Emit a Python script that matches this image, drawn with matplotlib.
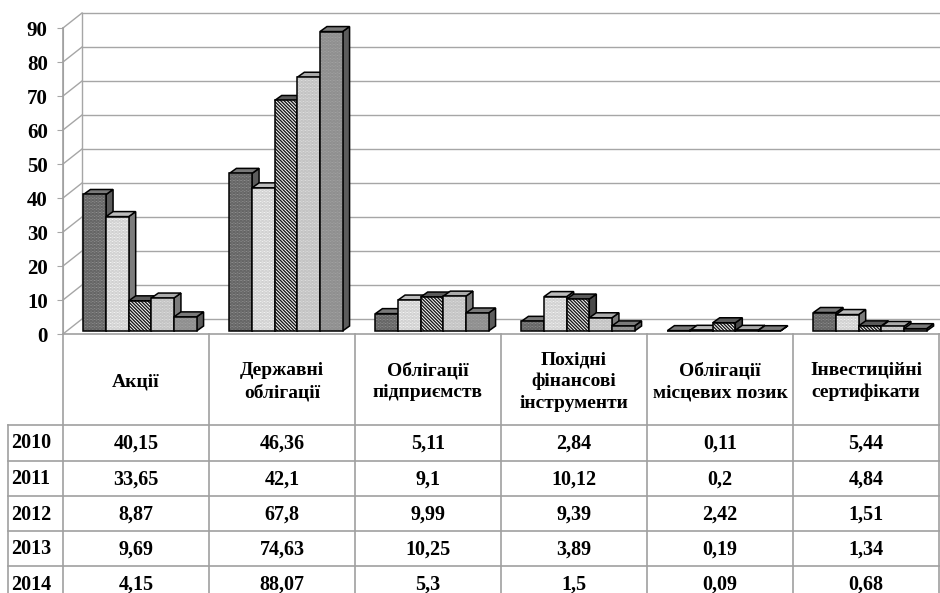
import matplotlib
matplotlib.use("Agg")
import matplotlib.pyplot as plt
from matplotlib.patches import Polygon
from matplotlib.lines import Line2D

categories = ["Акції", "Державні\nоблігації", "Облігації\nпідприємств",
              "Похідні\nфінансові\nінструменти", "Облігації\nмісцевих позик",
              "Інвестиційні\nсертифікати"]
years = ["2010", "2011", "2012", "2013", "2014"]
v2010 = [40.15, 46.36, 5.11, 2.84, 0.11, 5.44]
v2011 = [33.65, 42.1, 9.1, 10.12, 0.2, 4.84]
v2012 = [8.87, 67.8, 9.99, 9.39, 2.42, 1.51]
v2013 = [9.69, 74.63, 10.25, 3.89, 0.19, 1.34]
v2014 = [4.15, 88.07, 5.3, 1.5, 0.09, 0.68]
series = [v2010, v2011, v2012, v2013, v2014]
yticks = [0, 10, 20, 30, 40, 50, 60, 70, 80, 90]

# styles per series: (face, hatch, hatch color, side color, top color)
styles = [
    ("#9c9c9c", "." * 12, "#5a5a5a", "#5c5c5c", "#7a7a7a"),
    ("#ffffff", "." * 12, "#c8c8c8", "#7c7c7c", "#bdbdbd"),
    ("#ffffff", "\\" * 10, "#1a1a1a", "#4a4a4a", "#5a5a5a"),
    ("#e6e6e6", "." * 12, "#bcbcbc", "#7c7c7c", "#ababab"),
    ("#a8a8a8", "." * 12, "#8a8a8a", "#5c5c5c", "#7a7a7a"),
]

plt.rcParams['font.family'] = ['Liberation Serif', 'DejaVu Serif']
plt.rcParams['font.weight'] = 'bold'
plt.rcParams['hatch.linewidth'] = 1.0

W, H = 940, 593
fig = plt.figure(figsize=(W / 100, H / 100), dpi=100)
fig.patch.set_facecolor("white")

def fx(x):
    return x / W

def fy(y):
    return 1 - y / H

left_px, base_px, top_px, right_px = 63, 334, 28, 939
ax = fig.add_axes([fx(left_px), fy(base_px), (right_px - left_px) / W, (base_px - top_px) / H])
ncat = len(categories)
ax.set_xlim(0, ncat)
ax.set_ylim(0, 90)
ax.set_facecolor("none")
ppx = (right_px - left_px) / ncat
ppy = (base_px - top_px) / 90.0

grid_c = "#a6a6a6"
bdx, bdy = 19 / ppx, 15 / ppy      # back wall offset
odx, ody = 4 / ppx, 3 / ppy        # bar front offset
ddx, ddy = 7 / ppx, 5 / ppy        # bar depth

for v in yticks:
    ax.plot([bdx, ncat], [v + bdy, v + bdy], color=grid_c, lw=1, clip_on=False, zorder=1)
    ax.plot([0, bdx], [v, v + bdy], color=grid_c, lw=1, clip_on=False, zorder=1)
ax.plot([bdx, bdx], [bdy, 90 + bdy], color=grid_c, lw=1, clip_on=False, zorder=1)

group_w = 0.775
bw = group_w / len(series)
gap = (1 - group_w) / 2
for ci in range(ncat):
    for si, s in enumerate(series):
        v = s[ci]
        face, hatch, hcol, side, topc = styles[si]
        x0 = ci + gap + si * bw + odx
        y0 = ody
        x1 = x0 + bw
        y1 = y0 + v
        side_poly = [(x1, y0), (x1 + ddx, y0 + ddy), (x1 + ddx, y1 + ddy), (x1, y1)]
        top_poly = [(x0, y1), (x1, y1), (x1 + ddx, y1 + ddy), (x0 + ddx, y1 + ddy)]
        front_poly = [(x0, y0), (x1, y0), (x1, y1), (x0, y1)]
        z = 3 + ci * 10 + si
        ax.add_patch(Polygon(side_poly, closed=True, facecolor=side, edgecolor="black",
                             lw=1.1, clip_on=False, zorder=z))
        ax.add_patch(Polygon(top_poly, closed=True, facecolor=topc, edgecolor="black",
                             lw=1.1, clip_on=False, zorder=z))
        ax.add_patch(Polygon(front_poly, closed=True, facecolor=face, edgecolor=hcol,
                             hatch=hatch, lw=0, clip_on=False, zorder=z))
        ax.add_patch(Polygon(front_poly, closed=True, facecolor="none", edgecolor="black",
                             lw=1.1, clip_on=False, zorder=z))

ax.set_xticks([])
ax.set_yticks(yticks)
ax.set_yticklabels([str(t) for t in yticks], fontsize=15, fontweight="bold")
ax.tick_params(axis="y", length=4, color=grid_c, pad=7)
for sp in ["top", "right", "bottom"]:
    ax.spines[sp].set_visible(False)
ax.spines["left"].set_color(grid_c)

# data table
tab_c = "#a0a0a0"
hdr_bot = 425
row_lines = [425, 461, 496, 531, 566]
row_h = 35
def fline(x0, y0, x1, y1):
    fig.add_artist(Line2D([fx(x0), fx(x1)], [fy(y0), fy(y1)], color=tab_c, lw=1.2))

fline(left_px, base_px, W, base_px)
fline(left_px, top_px, left_px, H)
fline(8, hdr_bot, 8, H)
for yl in row_lines:
    fline(8, yl, W, yl)
for ci in range(1, ncat + 1):
    xl = left_px + ci * ppx
    fline(xl, base_px, xl, H)

for ci, cat in enumerate(categories):
    xc = left_px + (ci + 0.5) * ppx
    fig.text(fx(xc), fy((base_px + hdr_bot) / 2 + 2), cat, ha="center", va="center",
             fontsize=14, fontweight="bold", linespacing=1.35)
for si, yr in enumerate(years):
    yc = row_lines[si] + row_h / 2 + 1
    fig.text(fx(11), fy(yc), yr, ha="left", va="center", fontsize=14.5, fontweight="bold")
    for ci in range(ncat):
        xc = left_px + (ci + 0.5) * ppx
        txt = ("%g" % series[si][ci]).replace(".", ",")
        fig.text(fx(xc), fy(yc), txt, ha="center", va="center", fontsize=14.5, fontweight="bold")

fig.savefig("out.png", dpi=100, facecolor="white")
